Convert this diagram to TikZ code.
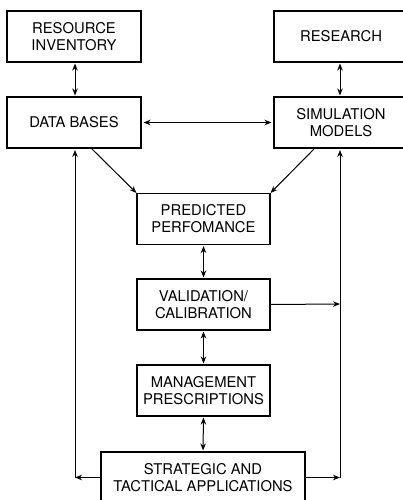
\documentclass[tikz,border=0pt]{standalone}
\usepackage{fontspec}
\setmainfont{TeX Gyre Heros}
\usetikzlibrary{arrows.meta}
\begin{document}
\begin{tikzpicture}[x=1pt,y=-1pt,
  box/.style={draw,line width=1.1pt,minimum width=134pt,minimum height=51pt,align=center,inner sep=0pt,
    font=\fontsize{14.8}{17}\selectfont},
  conn/.style={line width=1pt,arrows={-Stealth[length=7pt,width=5.5pt]}},
  biconn/.style={line width=1pt,arrows={Stealth[length=7pt,width=5.5pt]-Stealth[length=7pt,width=5.5pt]}}]
\clip (0,0) rectangle (403,500);
\node[box] (ri) at (74,36.5) {RESOURCE\\INVENTORY};
\node[box] (rs) at (341,36.5) {RESEARCH};
\node[box] (db) at (74,122.5) {DATA BASES};
\node[box] (sm) at (341,122.5) {SIMULATION\\MODELS};
\node[box,minimum width=133pt] (pp) at (203.5,219) {PREDICTED\\PERFOMANCE};
\node[box,minimum width=133pt] (vc) at (203.5,304.5) {VALIDATION/\\CALIBRATION};
\node[box,minimum width=133pt] (mp) at (203.5,390.5) {MANAGEMENT\\PRESCRIPTIONS};
\node[box,minimum width=204pt] (sta) at (203,477.5) {STRATEGIC AND\\TACTICAL APPLICATIONS};
\coordinate (lc) at (75,477.5);
\coordinate (rc) at (340,477.5);
\coordinate (lt) at (75,149);
\coordinate (rt) at (340,149);
\coordinate (rv) at (340,304);
\draw[biconn,shorten <=1pt,shorten >=1pt] (ri.south -| lc) -- (db.north -| lc);
\draw[biconn,shorten <=1pt,shorten >=1pt] (rs.south -| rc) -- (sm.north -| rc);
\draw[biconn,shorten <=2pt,shorten >=2pt] (db.east) -- (sm.west);
\draw[conn] (92,149) coordinate (d1) -- (pp.north west);
\draw[conn] (314,149) coordinate (s1) -- (pp.north east);
\draw[biconn,shorten <=1pt,shorten >=1pt] (pp.south) -- (vc.north);
\draw[biconn,shorten <=1pt,shorten >=1pt] (vc.south) -- (mp.north);
\draw[biconn,shorten <=1pt,shorten >=1pt] (mp.south) -- (sta.north);
\draw[conn] (vc.east) -- (rv);
\draw[conn] (sta.west) -- (lc);
\draw[conn] (sta.east) -- (rc);
\draw[conn,shorten >=1pt] (lc) -- (lt);
\draw[conn,shorten >=1pt] (rc) -- (rt);
\end{tikzpicture}
\end{document}
